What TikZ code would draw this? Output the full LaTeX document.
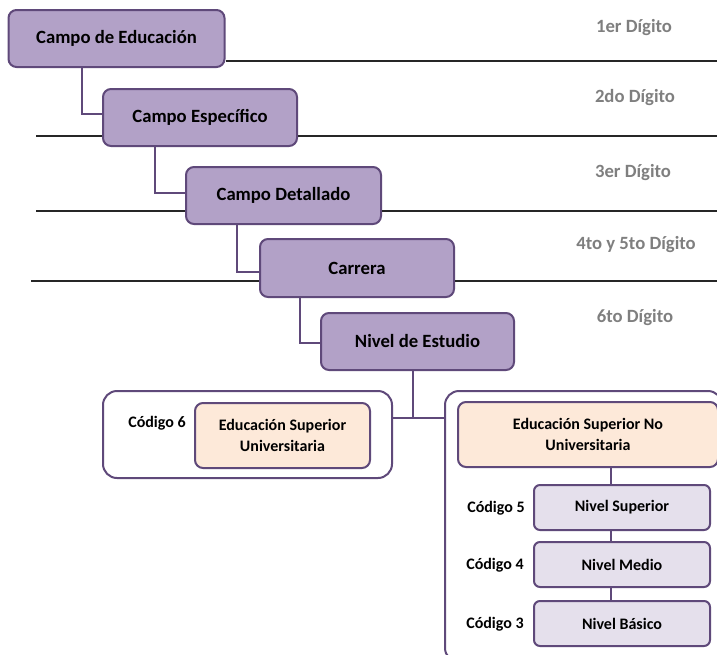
\documentclass[tikz,border=0pt]{standalone}
\usepackage{fontspec}
\setmainfont{Carlito}
\definecolor{boxfill}{HTML}{B2A1C7}
\definecolor{boxline}{HTML}{5F497A}
\definecolor{lightfill}{HTML}{E5E0EC}
\definecolor{peach}{HTML}{FDE9D9}
\definecolor{graytxt}{HTML}{7F7F7F}
\begin{document}
\begin{tikzpicture}[x=1pt,y=-1pt,
  mainbox/.style={draw=boxline,line width=2pt,fill=boxfill,rounded corners=8pt,font=\bfseries\fontsize{18.7}{22}\selectfont,inner sep=0pt},
  peachbox/.style={draw=boxline,line width=2pt,fill=peach,rounded corners=8pt,font=\bfseries\fontsize{16}{20.5}\selectfont,align=center,inner sep=0pt},
  smallbox/.style={draw=boxline,line width=2pt,fill=lightfill,rounded corners=6pt,font=\bfseries\fontsize{16}{19}\selectfont,inner sep=0pt,minimum width=176pt,minimum height=45pt},
  container/.style={draw=boxline,line width=2pt,fill=white,rounded corners=14pt,inner sep=0pt},
  digit/.style={text=graytxt,font=\bfseries\fontsize{18.7}{22}\selectfont},
  codelbl/.style={font=\bfseries\fontsize{16}{19}\selectfont},
  divider/.style={draw=black!85,line width=1.3pt},
  conn/.style={draw=boxline,line width=1.8pt}]
\useasboundingbox (0,0) rectangle (717,654);
\begin{scope}
\clip (0,0) rectangle (717,654);
% containers
\node[container,minimum width=289pt,minimum height=87pt] (lc) at (247.5,434.5) {};
\node[container,minimum width=277pt,minimum height=271pt] (rc) at (583.5,526.5) {};
% dividers
\coordinate (r1) at (717,61);
\coordinate (r2) at (717,136);
\coordinate (l2) at (36,136);
\coordinate (r3) at (717,211);
\coordinate (l3) at (36,211);
\coordinate (r4) at (717,281);
\coordinate (l4) at (31,281);
% main boxes
\node[mainbox,minimum width=216pt,minimum height=57pt] (ce) at (116.5,38.5) {Campo de Educación};
\node[mainbox,minimum width=194pt,minimum height=57pt] (ces) at (200,117.5) {Campo Específico};
\node[mainbox,minimum width=195pt,minimum height=57pt] (cd) at (283.5,195.5) {Campo Detallado};
\node[mainbox,minimum width=194pt,minimum height=58pt] (car) at (357,268) {Carrera};
\node[mainbox,minimum width=193pt,minimum height=57pt] (ne) at (417.5,341.5) {Nivel de Estudio};
\draw[divider] (ce.east |- r1) -- (r1);
\draw[divider] (l2) -- (ces.west |- l2);
\draw[divider] (ces.east |- r2) -- (r2);
\draw[divider] (l3) -- (cd.west |- l3);
\draw[divider] (cd.east |- r3) -- (r3);
\draw[divider] (l4) -- (car.west |- l4);
\draw[divider] (car.east |- r4) -- (r4);
% connectors between main boxes
\coordinate (k1) at (82,114);
\coordinate (k2) at (155,193);
\coordinate (k3) at (237,272);
\coordinate (k4) at (300,343);
\draw[conn] (ce.south -| k1) |- (ces.west |- k1);
\draw[conn] (ces.south -| k2) |- (cd.west |- k2);
\draw[conn] (cd.south -| k3) |- (car.west |- k3);
\draw[conn] (car.south -| k4) |- (ne.west |- k4);
% digit labels
\node[digit] (d1) at (634,28) {1er Dígito};
\node[digit] (d2) at (635,98) {2do Dígito};
\node[digit] (d3) at (633,173) {3er Dígito};
\node[digit] (d4) at (636,245) {4to y 5to Dígito};
\node[digit] (d6) at (635,318) {6to Dígito};
% lower part
\coordinate (k5) at (413,418);
\draw[conn] (ne.south -| k5) -- (k5);
\draw[conn] (lc.east |- k5) -- (rc.west |- k5);
\node[peachbox,minimum width=175pt,minimum height=65pt] (esu) at (282.5,435.5) {Educación Superior\\Universitaria};
\node[codelbl] (c6) at (157,423) {Código 6};
\node[peachbox,minimum width=260pt,minimum height=65pt] (esnu) at (588,434.5) {Educación Superior No\\Universitaria};
\node[smallbox] (ns) at (622,507.5) {Nivel Superior};
\node[smallbox] (nm) at (622,564.5) {Nivel Medio};
\node[smallbox] (nb) at (622,623.5) {Nivel Básico};
\coordinate (k6) at (611,0);
\draw[conn] (esnu.south -| k6) -- (ns.north -| k6);
\draw[conn] (ns.south -| k6) -- (nm.north -| k6);
\draw[conn] (nm.south -| k6) -- (nb.north -| k6);
\node[codelbl] (c5) at (496,508) {Código 5};
\node[codelbl] (c4) at (495,565) {Código 4};
\node[codelbl] (c3) at (495,624) {Código 3};
\end{scope}
\end{tikzpicture}
\end{document}
